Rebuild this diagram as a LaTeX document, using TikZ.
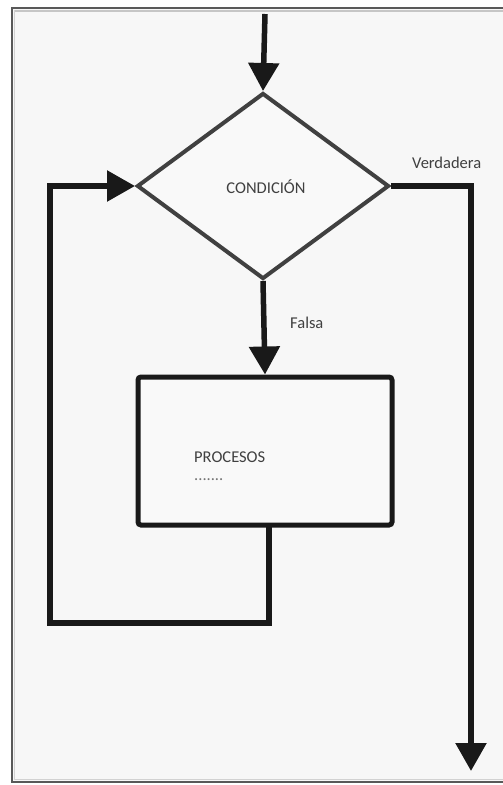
\documentclass[tikz,border=0pt]{standalone}
\usepackage{fontspec}
\setmainfont{Carlito}
\usetikzlibrary{arrows.meta,shapes.geometric}
\begin{document}
\begin{tikzpicture}[x=1pt,y=-1pt,
  conn/.style={line width=5.5pt, draw=black!90, line cap=butt},
  arr/.style={conn, -{Triangle[width=30pt,length=28pt]}},
  lbl/.style={font=\fontsize{16.5}{19}\selectfont, text=black!75, inner sep=0pt},
  decision/.style={diamond, draw=black!75, line width=4pt, minimum width=252pt, minimum height=186pt, inner sep=0pt, fill=gray!5},
  procbox/.style={rectangle, draw=black!90, line width=5pt, rounded corners=3pt, minimum width=254pt, minimum height=148pt, fill=gray!5}
]
\useasboundingbox (0,0) rectangle (503,785);
\fill[white] (0,0) rectangle (503,785);
% frame
\fill[gray!6] (12,8) rectangle (515,782);
\draw[black!65, line width=1.5pt] (12,8) rectangle (515,782);
\draw[gray!45, line width=2pt] (14,10.5) -- (515,10.5);
\draw[gray!35, line width=1.5pt] (14.5,10) -- (14.5,780);
\draw[gray!35, line width=1.5pt] (14,779.5) -- (515,779.5);

\node[decision] (cond) at (263,186) {};
\node[lbl] (condtxt) at (266,187) {CONDICIÓN};
\node[procbox] (proc) at (265,451) {};
\node[lbl, anchor=west] (proctxt) at (194,457) {PROCESOS};
\node[lbl, anchor=west, text=black!55] (dots) at (194,480) {.......};

\coordinate (start) at (265,14);
\coordinate (vcorner) at (471,186);
\coordinate (vend) at (471,771);
\coordinate (pout) at (269,525);
\coordinate (lb) at (269,623);
\coordinate (lbl2) at (50,623);
\coordinate (lt) at (50,186);

\draw[arr] (start) -- (cond.north);
\node[lbl, anchor=west] (falsa) at (290,323) {Falsa};
\draw[arr] (cond.south) -- (proc.north);
\draw[arr] (cond.east) -- (vcorner) -- (vend);
\node[lbl, anchor=west] (verd) at (412,163) {Verdadera};
\draw[arr] (pout) -- (lb) -- (lbl2) -- (lt) -- (cond.west);
\end{tikzpicture}
\end{document}
